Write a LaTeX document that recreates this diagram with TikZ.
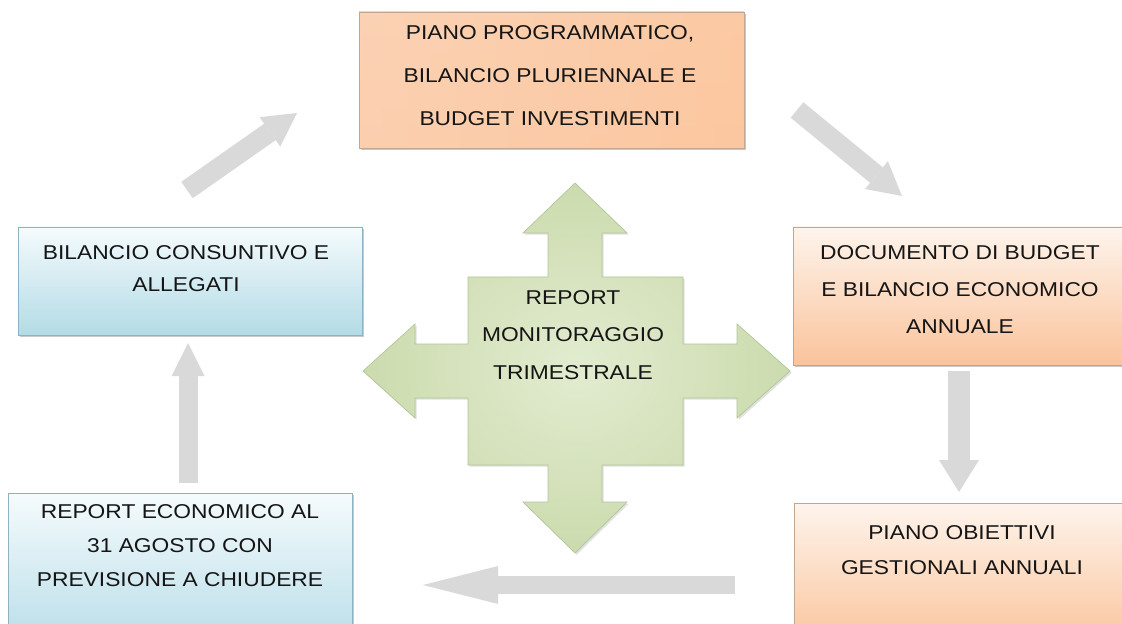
\documentclass[tikz,border=0pt]{standalone}
\usepackage{fontspec}
\setmainfont{Liberation Sans}[FakeStretch=1.14]
\usetikzlibrary{arrows.meta,shadows,fadings}
\definecolor{arrgray}{HTML}{D9D9D9}
\definecolor{orbord}{HTML}{C2A690}
\definecolor{blbord}{HTML}{8DB3C2}
\definecolor{txtc}{HTML}{151515}
\definecolor{grbord}{HTML}{B2C498}
\definecolor{orlight}{HTML}{FEF4EC}
\definecolor{ordark}{HTML}{FAC39B}
\definecolor{ormid}{HTML}{FEF3EA}
\definecolor{bllight}{HTML}{F5FBFD}
\definecolor{bldark}{HTML}{B3DBE6}
\definecolor{grin}{HTML}{E2ECD0}
\definecolor{grout}{HTML}{CCDBAE}
\begin{document}
\begin{tikzpicture}[x=0.75pt,y=-0.75pt,
  boxbase/.style={rectangle, inner sep=0pt, outer sep=0pt, line width=0.6pt,
    drop shadow={shadow xshift=1.3pt, shadow yshift=-1.3pt, opacity=0.3, fill=black!70}},
  orbox/.style={boxbase, draw=orbord},
  blbox/.style={boxbase, draw=blbord, top color=bllight, bottom color=bldark},
  txt/.style={font={\fontsize{15pt}{#1}\selectfont}, align=center, text=txtc, inner sep=0pt},
  garrow/.style n args={3}{draw=arrgray, line width=#1,
    -{Triangle[width=#2, length=#3, line width=0pt]}},
]
\path[use as bounding box] (0,0) rectangle (1122,624);
\clip (0,0) rectangle (1122,624);

% boxes
\node[orbox, top color=ordark!75!white, middle color=ormid, bottom color=ordark!80!white,
  minimum width=288.75pt, minimum height=102pt] (top) at (551.5,80) {};
\fill[ordark!85!orange, path fading=west, fill opacity=0.35] (top.north west) rectangle (top.south east);
\draw[orbord, line width=0.6pt] (top.north west) rectangle (top.south east);
\node[orbox, top color=orlight, bottom color=ordark,
  minimum width=250.5pt, minimum height=103.5pt] (rmid) at (960,296) {};
\node[orbox, top color=orlight, bottom color=ordark!95!orange,
  minimum width=249.75pt, minimum height=117.75pt] (rbot) at (960.5,581.5) {};
\node[blbox, minimum width=258pt, minimum height=81pt] (lmid) at (190,281) {};
\node[blbox, minimum width=258pt, minimum height=125.25pt] (lbot) at (180,576.5) {};

% central four-way arrow
\path[draw=grbord, line width=0.5pt, inner color=grin, outer color=grout,
  drop shadow={shadow xshift=1.3pt, shadow yshift=-1.3pt, opacity=0.2, fill=black!60}]
  (575,183) -- (627,233) -- (602,233) -- (602,277) -- (683,277) -- (683,344)
  -- (737,344) -- (737,324) -- (790,371) -- (737,418) -- (737,398) -- (683,398)
  -- (683,465) -- (602,465) -- (602,502) -- (627,502) -- (575,553) -- (523,502)
  -- (548,502) -- (548,465) -- (468,465) -- (468,398) -- (415,398) -- (415,418)
  -- (363,371) -- (415,324) -- (415,344) -- (468,344) -- (468,277) -- (548,277)
  -- (548,233) -- (523,233) -- cycle;

% texts
\node[txt=32.25pt] (ttop) at (550,76) {PIANO PROGRAMMATICO,\\BILANCIO PLURIENNALE E\\BUDGET INVESTIMENTI};
\node[txt=27.75pt] (trmid) at (960,290) {DOCUMENTO DI BUDGET\\E BILANCIO ECONOMICO\\ANNUALE};
\node[txt=26.25pt] (trbot) at (962,550.5) {PIANO OBIETTIVI\\GESTIONALI ANNUALI};
\node[txt=24pt] (tlmid) at (186,269) {BILANCIO CONSUNTIVO E\\ALLEGATI};
\node[txt=25.5pt] (tlbot) at (180,546) {REPORT ECONOMICO AL\\31 AGOSTO CON\\PREVISIONE A CHIUDERE};
\node[txt=28pt] (tcen) at (573,335) {REPORT\\MONITORAGGIO\\TRIMESTRALE};

% gray connector arrows
\coordinate (a1s) at (187,190); \coordinate (a1e) at (297,113);
\coordinate (a2s) at (797,110); \coordinate (a2e) at (902,196);
\coordinate (a3s) at (959,371); \coordinate (a3e) at (959,492);
\coordinate (a4s) at (735,585); \coordinate (a4e) at (423,585);
\coordinate (a5s) at (188,483); \coordinate (a5e) at (188,343);
\draw[garrow={15pt}{27pt}{24.75pt}] (a1s) -- (a1e);
\draw[garrow={15pt}{27pt}{24.75pt}] (a2s) -- (a2e);
\draw[garrow={16.5pt}{30pt}{24pt}] (a3s) -- (a3e);
\draw[garrow={13.5pt}{28.5pt}{56.25pt}] (a4s) -- (a4e);
\draw[garrow={14.25pt}{24.75pt}{24.75pt}] (a5s) -- (a5e);
\end{tikzpicture}
\end{document}
